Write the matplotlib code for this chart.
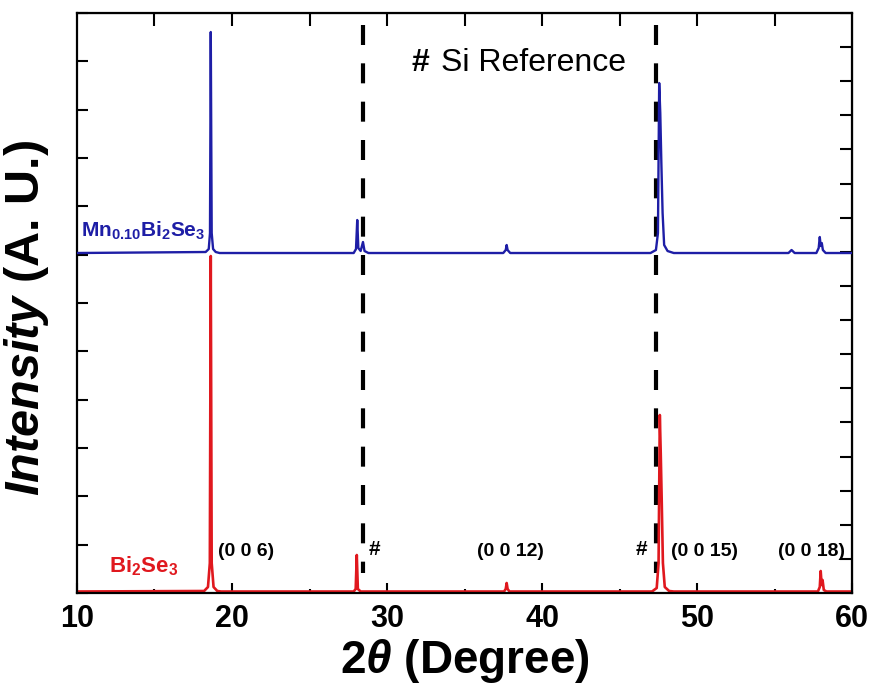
import matplotlib
matplotlib.use("Agg")
import matplotlib.pyplot as plt
import numpy as np

plt.rcParams['font.family'] = ['Liberation Sans', 'DejaVu Sans']
plt.rcParams['mathtext.fontset'] = 'custom'
plt.rcParams['mathtext.rm'] = 'Liberation Sans:bold'
plt.rcParams['mathtext.bf'] = 'Liberation Sans:bold'
plt.rcParams['mathtext.it'] = 'Liberation Sans:italic:bold'
plt.rcParams['mathtext.bfit'] = 'Liberation Sans:italic:bold'

# ---- data (2theta in degrees, intensity in arbitrary units) ----
mn_two_theta = [10, 18.3, 18.5, 18.58, 18.63, 18.69, 18.78, 18.95, 19.2,
                27.85, 28.0, 28.08, 28.15, 28.3, 28.45, 28.55, 28.8,
                37.5, 37.66, 37.72, 37.78, 37.95,
                47.0, 47.35, 47.48, 47.56, 47.63, 47.7, 47.78, 47.88, 48.1, 48.5,
                55.9, 56.1, 56.3,
                57.7, 57.85, 57.92, 57.98, 58.05, 58.12, 58.3, 60]
mn_intensity = [340, 341, 344, 360, 561, 360, 344, 341, 340,
                340, 344, 373, 345, 342, 351, 342, 340,
                340, 343, 348, 343, 340,
                340, 343, 360, 510, 480, 430, 380, 348, 342, 340,
                340, 343, 340,
                340, 345, 356, 347, 350, 343, 340, 340]

bs_two_theta = [10, 18.2, 18.45, 18.57, 18.63, 18.69, 18.81, 19.05, 19.3,
                27.85, 27.98, 28.05, 28.12, 28.3,
                37.55, 37.66, 37.72, 37.78, 37.9,
                47.1, 47.4, 47.52, 47.6, 47.66, 47.72, 47.8, 47.92, 48.2, 48.5,
                57.8, 57.92, 57.98, 58.04, 58.1, 58.18, 58.35, 60]
bs_intensity = [1.5, 2, 6, 30, 337, 30, 6, 2, 1.5,
                1.5, 4, 38, 4, 1.5,
                1.5, 4, 10, 4, 1.5,
                1.5, 5, 30, 178, 140, 95, 30, 6, 2, 1.5,
                1.5, 6, 22, 8, 13, 3, 1.5, 1.5]

si_reference = [28.45, 47.38]
peak_labels = ['(0 0 6)', '(0 0 12)', '(0 0 15)', '(0 0 18)']
peak_label_x = [20.9, 37.95, 50.5, 57.4]
si_mark_x = [29.2, 46.4]

blue = '#1e1ea6'
red = '#e0181e'

fig = plt.figure(figsize=(8.71, 6.85), dpi=100)
ax = fig.add_axes([0.0884, 0.1343, 0.8898, 0.8467])

ax.vlines(si_reference, 568, 20, colors='black', linewidth=3.0,
          linestyles=(0, (4.8, 4.4)), zorder=1)
ax.plot(mn_two_theta, mn_intensity, color=blue, lw=1.7, zorder=3)
ax.plot(bs_two_theta, bs_intensity, color=red, lw=1.9, zorder=2)

ax.set_xlim(10, 60)
ax.set_ylim(0, 580)

for sp in ax.spines.values():
    sp.set_linewidth(1.6)

ax.set_xticks([10, 20, 30, 40, 50, 60])
ax.set_xticks([15, 25, 35, 45, 55], minor=True)
ax.tick_params(axis='x', which='major', direction='in', length=7, width=1.5,
               labelsize=22, pad=8, top=False)
ax.tick_params(axis='x', which='minor', direction='in', length=3, width=1.5, top=False)
for lab in ax.get_xticklabels():
    lab.set_fontweight('bold')

ax.set_yticks(np.linspace(0, 580, 13))
ax.tick_params(axis='y', which='major', direction='in', length=8, width=1.5,
               labelleft=False, right=False)

# top ticks every 5 degrees
axt = ax.secondary_xaxis('top')
axt.set_xticks(np.arange(15, 60, 5))
axt.tick_params(direction='in', length=9, width=1.5, labeltop=False)
# right ticks
axr = ax.secondary_yaxis('right')
axr.set_yticks(np.linspace(0, 580, 18))
axr.tick_params(direction='in', length=9, width=1.5, labelright=False)

ax.set_xlabel(r'2$\mathit{\theta}$ (Degree)', fontsize=33, fontweight='bold', labelpad=2)
ax.set_ylabel(r'$\mathbfit{Intensity}$ (A. U.)', fontsize=35, fontweight='bold')
ax.yaxis.set_label_coords(-0.033, 0.474)

for lbl, xp in zip(peak_labels, peak_label_x):
    ax.text(xp, 42, lbl, ha='center', va='center', fontsize=14, fontweight='bold')
for xp in si_mark_x:
    ax.text(xp, 44, '#', ha='center', va='center', fontsize=15, fontweight='bold')

ax.text(14.3, 27, r'Bi$_{\mathbf{2}}$Se$_{\mathbf{3}}$', color=red, ha='center', va='center',
        fontsize=16, fontweight='bold')
ax.text(14.3, 362, r'Mn$_{\mathbf{0.10}}$Bi$_{\mathbf{2}}$Se$_{\mathbf{3}}$', color=blue,
        ha='center', va='center', fontsize=15, fontweight='bold')

ax.text(31.6, 530, '#', ha='left', va='center', fontsize=23, fontweight='bold')
ax.text(33.5, 530, 'Si Reference', ha='left', va='center', fontsize=23)

fig.savefig('out.png', dpi=100)
